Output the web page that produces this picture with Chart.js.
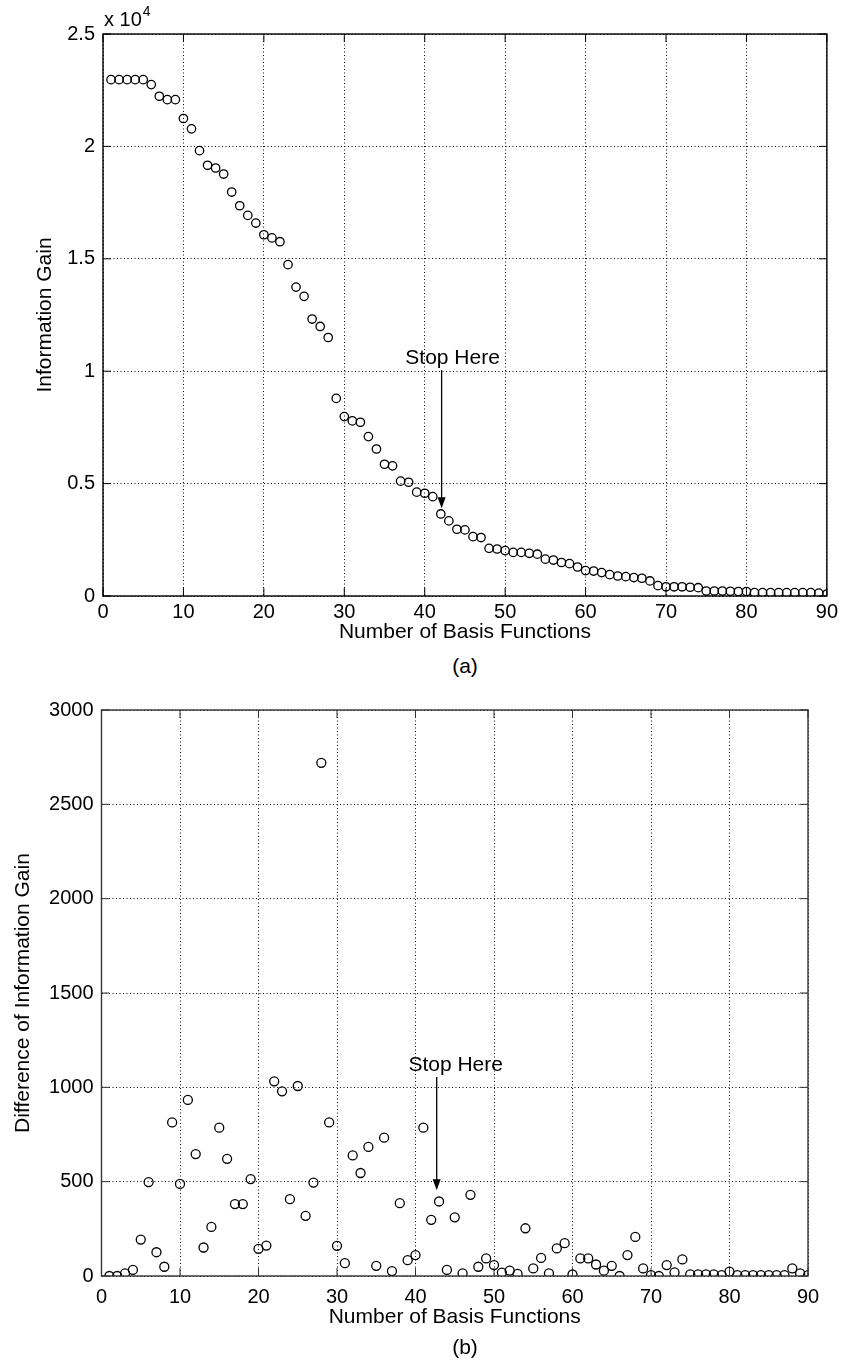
<!DOCTYPE html>
<html>
<head>
<meta charset="utf-8">
<script src="https://cdn.jsdelivr.net/npm/chart.js@4.4.1/dist/chart.umd.min.js"></script>
<style>
  body { margin: 0; background: #fff; width: 842px; height: 1367px; position: relative; overflow: hidden; }
  .wrap { position: absolute; left: 0; width: 842px; height: 650px; }
  #wrapA { top: 0; }
  #wrapB { top: 690px; }
  .cap { position: absolute; left: 415px; width: 100px; text-align: center;
         font: 21px "Liberation Sans", Arial, sans-serif; color: #000; }
</style>
</head>
<body>
<div class="wrap" id="wrapA"><canvas id="chartA"></canvas></div>
<div class="cap" style="top:654px">(a)</div>
<div class="wrap" id="wrapB"><canvas id="chartB"></canvas></div>
<div class="cap" style="top:1335px">(b)</div>
<script>
// number of basis functions (x for both panels)
const basisCount = [
  1, 2, 3, 4, 5, 6, 7, 8, 9, 10, 11, 12, 13, 14, 15, 16, 17, 18, 19, 20,
  21, 22, 23, 24, 25, 26, 27, 28, 29, 30, 31, 32, 33, 34, 35, 36, 37, 38, 39, 40,
  41, 42, 43, 44, 45, 46, 47, 48, 49, 50, 51, 52, 53, 54, 55, 56, 57, 58, 59, 60,
  61, 62, 63, 64, 65, 66, 67, 68, 69, 70, 71, 72, 73, 74, 75, 76, 77, 78, 79, 80,
  81, 82, 83, 84, 85, 86, 87, 88, 89, 90
];

// (a) information gain
const infoGain = [
  22970, 22970, 22970, 22970, 22970, 22750, 22230, 22080, 22080, 21240,
  20780, 19810, 19160, 19040, 18770, 17970, 17360, 16930, 16590, 16070,
  15930, 15760, 14740, 13740, 13330, 12320, 11990, 11500, 8790, 7980,
  7790, 7730, 7090, 6540, 5860, 5790, 5110, 5060, 4620, 4570,
  4420, 3650, 3340, 2970, 2940, 2640, 2600, 2120, 2090, 2020,
  1940, 1940, 1900, 1860, 1640, 1600, 1490, 1440, 1290, 1130,
  1110, 1040, 950, 890, 860, 820, 790, 670, 460, 410,
  410, 410, 390, 370, 220, 220, 220, 210, 200, 200,
  150, 150, 150, 150, 150, 150, 150, 150, 130, 90
];

// (b) difference of information gain
const gainDiff = [
  0, 0, 14, 32, 193, 498, 126, 49, 814, 488,
  933, 646, 151, 260, 786, 621, 381, 381, 514, 144,
  161, 1032, 979, 407, 1007, 319, 495, 2720, 814, 160,
  68, 639, 546, 684, 54, 733, 26, 386, 84, 111,
  786, 298, 395, 32, 311, 14, 430, 49, 93, 58,
  18, 28, 11, 253, 40, 96, 14, 146, 174, 8,
  93, 93, 61, 28, 54, 0, 111, 207, 40, 5,
  0, 58, 19, 88, 9, 9, 9, 9, 5, 23,
  5, 5, 5, 5, 5, 5, 5, 40, 14, 5
];

const xTicks = [0, 10, 20, 30, 40, 50, 60, 70, 80, 90];
const gainTicks = [0, 5000, 10000, 15000, 20000, 25000];
const diffTicks = [0, 500, 1000, 1500, 2000, 2500, 3000];

// "Stop Here" annotations, data coordinates
const stopA = { x: 42.1, from: 10050, to: 3900, label: 'Stop Here' };
const stopB = { x: 42.7, from: 1055, to: 455, label: 'Stop Here' };

const FONT = '"Liberation Sans", Arial, Helvetica, sans-serif';

const pairs = (xs, ys) => xs.map((v, i) => ({ x: v, y: ys[i] }));

// matlab-ish box, inward ticks, arrow annotation
const matlabAxes = {
  id: 'matlabAxes',
  afterDatasetsDraw(chart, args, opts) {
    const { ctx, chartArea: a, scales: { x, y } } = chart;
    ctx.save();
    ctx.strokeStyle = opts.color;
    ctx.lineWidth = 1.4;
    ctx.strokeRect(a.left, a.top, a.right - a.left, a.bottom - a.top);

    ctx.lineWidth = 1;
    ctx.beginPath();
    const t = 8;
    x.ticks.forEach(tk => {
      const px = x.getPixelForValue(tk.value);
      ctx.moveTo(px, a.bottom); ctx.lineTo(px, a.bottom - t);
      ctx.moveTo(px, a.top); ctx.lineTo(px, a.top + t);
    });
    y.ticks.forEach(tk => {
      const py = y.getPixelForValue(tk.value);
      ctx.moveTo(a.left, py); ctx.lineTo(a.left + t, py);
      ctx.moveTo(a.right, py); ctx.lineTo(a.right - t, py);
    });
    ctx.stroke();

    const s = opts.stop;
    if (s) {
      const px = x.getPixelForValue(s.x);
      const p1 = y.getPixelForValue(s.from);
      const p2 = y.getPixelForValue(s.to);
      ctx.strokeStyle = '#000';
      ctx.fillStyle = '#000';
      ctx.lineWidth = 1.3;
      ctx.beginPath();
      ctx.moveTo(px, p1);
      ctx.lineTo(px, p2 - 8);
      ctx.stroke();
      ctx.beginPath();
      ctx.moveTo(px, p2);
      ctx.lineTo(px - 4, p2 - 11);
      ctx.lineTo(px + 4, p2 - 11);
      ctx.closePath();
      ctx.fill();
      ctx.font = '21px ' + FONT;
      ctx.textAlign = 'center';
      ctx.textBaseline = 'alphabetic';
      ctx.fillText(s.label, px + opts.labelShift, p1 - 6);
    }

    if (opts.exponent) {
      ctx.fillStyle = '#000';
      ctx.textAlign = 'left';
      ctx.textBaseline = 'alphabetic';
      ctx.font = '20px ' + FONT;
      ctx.fillText('x 10', a.left + 1, a.top - 8);
      const w = ctx.measureText('x 10').width;
      ctx.font = '14px ' + FONT;
      ctx.fillText('4', a.left + 2 + w, a.top - 18);
    }
    ctx.restore();
  }
};

function makeChart(id, cfg) {
  const ticksFrom = list => scale => { scale.ticks = list.map(v => ({ value: v })); };
  return new Chart(document.getElementById(id), {
    type: 'scatter',
    data: {
      datasets: [{
        data: pairs(basisCount, cfg.values),
        showLine: false,
        pointStyle: 'circle',
        pointRadius: cfg.radius,
        pointBorderWidth: 1.3,
        pointBorderColor: '#000',
        pointBackgroundColor: 'rgba(0,0,0,0)'
      }]
    },
    options: {
      responsive: true,
      maintainAspectRatio: false,
      animation: false,
      events: [],
      layout: { padding: { top: cfg.padTop, right: cfg.padRight, left: 0, bottom: 0 } },
      plugins: {
        legend: { display: false },
        tooltip: { enabled: false },
        matlabAxes: { color: cfg.boxColor, stop: cfg.stop, exponent: cfg.exponent, labelShift: cfg.labelShift }
      },
      scales: {
        x: {
          type: 'linear',
          min: 0, max: 90,
          afterBuildTicks: ticksFrom(xTicks),
          afterFit: s => { s.height = cfg.xHeight; },
          grid: { color: '#000', lineWidth: 1, drawTicks: false },
          border: { display: false, dash: [1, 2.5] },
          ticks: { color: '#000', padding: cfg.xTickPad, font: { family: FONT, size: 20 }, maxRotation: 0 },
          title: { display: true, text: 'Number of Basis Functions', color: '#000',
                   font: { family: FONT, size: 21 }, padding: { top: 0, bottom: cfg.xTitlePad } }
        },
        y: {
          min: 0, max: cfg.yMax,
          afterBuildTicks: ticksFrom(cfg.yTicks),
          afterFit: s => { s.width = cfg.yWidth; },
          grid: { color: '#000', lineWidth: 1, drawTicks: false },
          border: { display: false, dash: [1, 2.5] },
          ticks: { color: '#000', padding: 8, font: { family: FONT, size: 20 }, callback: cfg.yLabel },
          title: { display: true, text: cfg.yTitle, color: '#000',
                   font: { family: FONT, size: 21 }, padding: { top: cfg.yTitlePad, bottom: 0 } }
        }
      }
    },
    plugins: [matlabAxes]
  });
}

makeChart('chartA', {
  values: infoGain,
  radius: 4.2,
  yMax: 25000,
  yTicks: gainTicks,
  yLabel: v => String(v / 10000),
  yTitle: 'Information Gain',
  yWidth: 103, yTitlePad: 33,
  xHeight: 54, xTickPad: 4, xTitlePad: 5,
  padTop: 34, padRight: 14,
  boxColor: '#000',
  stop: stopA, labelShift: 11,
  exponent: true
});

makeChart('chartB', {
  values: gainDiff,
  radius: 4.5,
  yMax: 3000,
  yTicks: diffTicks,
  yLabel: v => String(v),
  yTitle: 'Difference of Information Gain',
  yWidth: 101.5, yTitlePad: 11,
  xHeight: 64, xTickPad: 9, xTitlePad: 10,
  padTop: 16, padRight: 34,
  boxColor: '#333',
  stop: stopB, labelShift: 19,
  exponent: false
});
</script>
</body>
</html>
